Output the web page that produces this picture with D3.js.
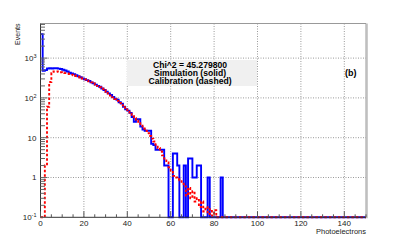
<!DOCTYPE html>
<html>
<head>
<meta charset="utf-8">
<script src="https://cdn.jsdelivr.net/npm/d3@7"></script>
<style>
  body { margin: 0; background: #fff; }
  svg { display: block; font-family: "Liberation Sans", Arial, sans-serif; }
</style>
</head>
<body>
<div id="vis"></div>
<script>
// counts per 1-p.e. bin, starting at bin 0; bins not listed (up to 150) are empty
var simulation = [4000, 480, 500, 550, 555, 550, 560, 555, 545, 530,
  510, 490, 460, 430, 410, 395, 370, 350, 330, 310,
  295, 280, 265, 245, 232, 215, 200, 190, 172, 158,
  143, 130, 118, 105, 96, 90, 78, 72, 60, 52,
  48, 42, 33, 25, 29, 29, 19, 16, 15, 15,
  15, 7, 6.5, 5, 5, 5, 5, 2, 2, 0,
  0, 4, 4, 2, 0, 0, 2, 0, 3, 3,
  1, 1, 2, 2, 0, 0, 0, 1, 0, 0,
  0, 0, 0, 1, 0];

var calibration = [0, 0, 2, 60, 250, 420, 460, 465, 450, 440,
  430, 420, 410, 400, 385, 370, 355, 340, 320, 305,
  290, 275, 260, 245, 230, 215, 200, 185, 170, 155,
  140, 128, 115, 103, 93, 84, 75, 66, 58, 51,
  45, 40, 35, 31, 27, 23, 20, 17, 15, 13,
  11, 9.5, 8, 6.6, 5.5, 4.5, 3.6, 3, 2.4, 1.8,
  1.5, 1.1, 1.0, 0.9, 0.85, 0.7, 0.6, 0.35, 0.55, 0.3,
  0.45, 0.25, 0.3, 0.18, 0.25, 0.14, 0.18, 0.12, 0.16, 0.11,
  0.15, 0];

var xTicks = [0, 20, 40, 60, 80, 100, 120, 140];
var yTicks = [0.1, 1, 10, 100, 1000];
var yTickLabels = [["10", "-1"], ["1", ""], ["10", ""], ["10", "2"], ["10", "3"]];
var statLines = ["Chi^2 = 45.279800", "Simulation (solid)", "Calibration (dashed)"];

var W = 407, H = 242,
    fLeft = 40.5, fRight = 366, fTop = 23.5, fBottom = 217.3,
    nBins = 150;

var x = d3.scaleLinear().domain([0, 150]).range([fLeft, fRight]);
var y = d3.scaleLog().domain([0.1, 7400]).range([fBottom, fTop]).clamp(true);

var svg = d3.select("#vis").append("svg")
    .attr("width", W)
    .attr("height", H);

// grid
var grid = svg.append("g")
    .attr("stroke", "#999")
    .attr("stroke-width", 1)
    .attr("stroke-dasharray", "1,1.5");
grid.selectAll("line.gx")
    .data(xTicks.filter(function(d) { return d > 0; }))
  .enter().append("line")
    .attr("x1", function(d) { return x(d); })
    .attr("x2", function(d) { return x(d); })
    .attr("y1", fTop).attr("y2", fBottom);
grid.selectAll("line.gy")
    .data(yTicks.filter(function(d) { return d > 0.1; }))
  .enter().append("line")
    .attr("y1", function(d) { return y(d); })
    .attr("y2", function(d) { return y(d); })
    .attr("x1", fLeft).attr("x2", fRight);

// stat box
svg.append("rect")
    .attr("x", 127).attr("y", 60)
    .attr("width", 130).attr("height", 26)
    .attr("fill", "#f0f0f0");
svg.append("g").selectAll("text")
    .data(statLines)
  .enter().append("text")
    .attr("x", 190)
    .attr("y", function(d, i) { return 68.3 + i * 7.6; })
    .attr("text-anchor", "middle")
    .attr("font-size", 8.6)
    .attr("font-weight", "bold")
    .text(function(d) { return d; });

svg.append("text")
    .attr("x", 345).attr("y", 76)
    .attr("font-size", 9)
    .attr("font-weight", "bold")
    .text("(b)");

// histograms
function steps(vals) {
  var pts = [];
  for (var i = 0; i < nBins; i++) pts.push([i, vals[i] || 0]);
  pts.push([nBins, vals[nBins - 1] || 0]);
  return pts;
}
var line = d3.line()
    .x(function(d) { return x(d[0]); })
    .y(function(d) { return y(Math.max(d[1], 0.1)); })
    .curve(d3.curveStepAfter);

svg.append("path")
    .datum(steps(simulation))
    .attr("fill", "none")
    .attr("stroke", "#0000ff")
    .attr("stroke-width", 1.9)
    .attr("d", line);

svg.append("path")
    .datum(steps(calibration))
    .attr("fill", "none")
    .attr("stroke", "#ff0000")
    .attr("stroke-width", 1.9)
    .attr("stroke-dasharray", "2.5,2")
    .attr("d", line);

// frame
svg.append("path")
    .attr("d", "M" + fLeft + "," + fTop + "H" + fRight + "V" + fBottom)
    .attr("fill", "none")
    .attr("stroke", "#999")
    .attr("stroke-width", 1);
svg.append("line")
    .attr("x1", fRight + 1).attr("x2", fRight + 1)
    .attr("y1", fTop).attr("y2", fBottom + 1)
    .attr("stroke", "#bbb").attr("stroke-width", 1.5);

// axes lines
var axes = svg.append("g").attr("stroke", "#333").attr("stroke-width", 1);
axes.append("line").attr("x1", fLeft).attr("x2", fLeft).attr("y1", fTop).attr("y2", fBottom);
axes.append("line").attr("x1", fLeft).attr("x2", fRight).attr("y1", fBottom).attr("y2", fBottom);

// x ticks
var xMinor = d3.range(0, 151, 5);
axes.selectAll("line.xt")
    .data(xMinor)
  .enter().append("line")
    .attr("x1", function(d) { return x(d); })
    .attr("x2", function(d) { return x(d); })
    .attr("y1", fBottom)
    .attr("y2", function(d) { return fBottom - (d % 20 === 0 ? 6 : 3); })
    .attr("stroke", "#555");

// y ticks
var yMinor = [];
[0.1, 1, 10, 100, 1000].forEach(function(dec) {
  for (var k = 1; k < 10; k++) if (dec * k <= 7400) yMinor.push(dec * k);
});
axes.selectAll("line.yt")
    .data(yMinor)
  .enter().append("line")
    .attr("y1", function(d) { return y(d); })
    .attr("y2", function(d) { return y(d); })
    .attr("x1", fLeft)
    .attr("x2", function(d, i) { return fLeft + (yTicks.indexOf(d) >= 0 ? 7 : 4.5); })
    .attr("stroke", "#666");

// tick labels
svg.append("g").selectAll("text")
    .data(xTicks)
  .enter().append("text")
    .attr("x", function(d) { return x(d); })
    .attr("y", 225.5)
    .attr("text-anchor", "middle")
    .attr("font-size", 8)
    .attr("fill", "#222")
    .text(function(d) { return d; });

var yl = svg.append("g").selectAll("text")
    .data(yTicks)
  .enter().append("text")
    .attr("x", 36.5)
    .attr("y", function(d) { return y(d) + 3; })
    .attr("text-anchor", "end")
    .attr("font-size", 8)
    .attr("fill", "#222");
yl.append("tspan").text(function(d, i) { return yTickLabels[i][0]; });
yl.append("tspan")
    .attr("dy", -3)
    .attr("font-size", 5.5)
    .text(function(d, i) { return yTickLabels[i][1]; });

// axis titles
svg.append("text")
    .attr("x", fRight).attr("y", 234)
    .attr("text-anchor", "end")
    .attr("font-size", 7.5)
    .attr("fill", "#222")
    .text("Photoelectrons");
svg.append("text")
    .attr("transform", "translate(20," + fTop + ") rotate(-90)")
    .attr("text-anchor", "end")
    .attr("font-size", 7)
    .attr("fill", "#222")
    .text("Events");
</script>
</body>
</html>
